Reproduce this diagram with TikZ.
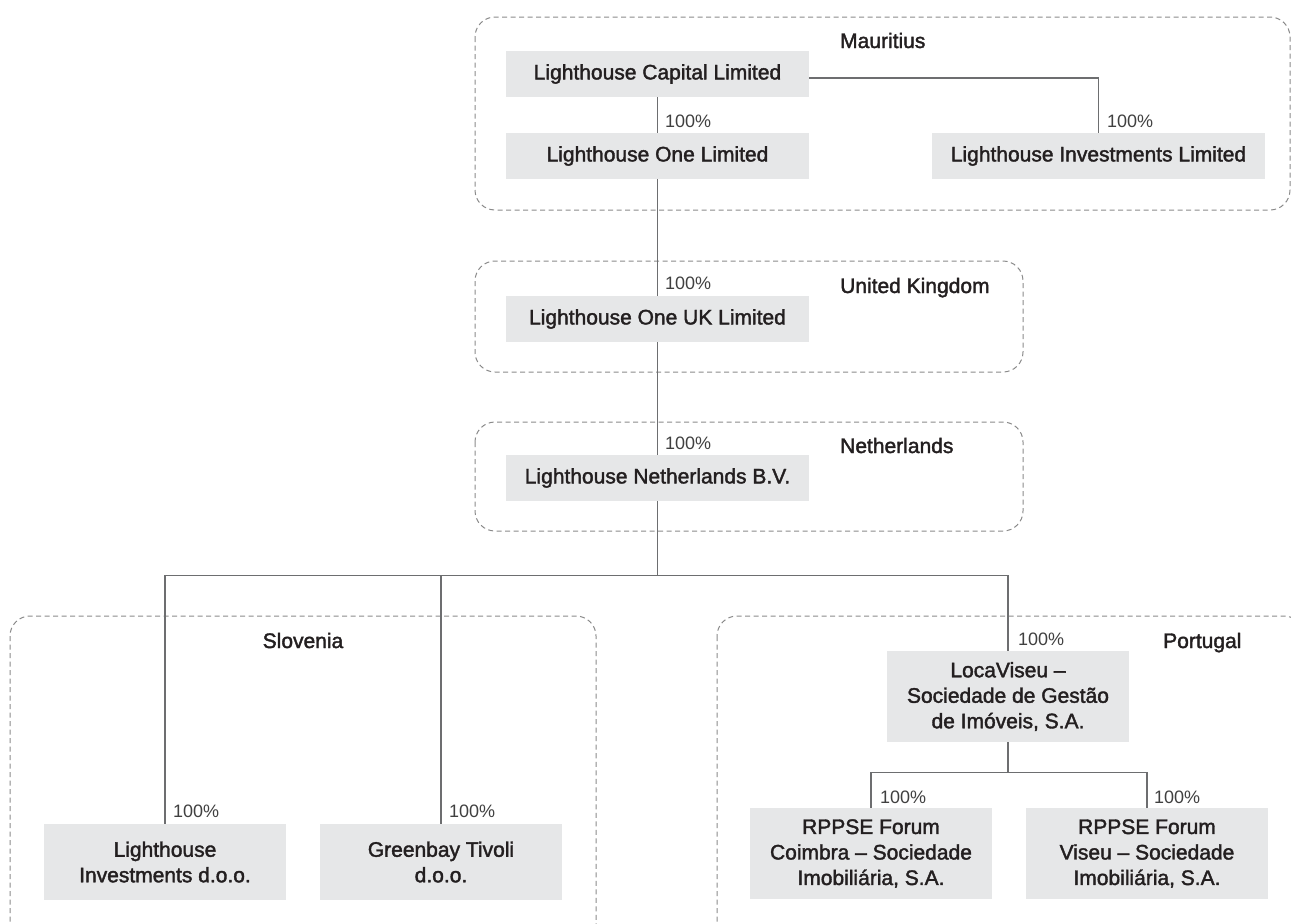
\documentclass[tikz,border=0pt]{standalone}
\usepackage{fontspec}
\setmainfont{Liberation Sans}
\newfontfamily\medfont[FakeBold=1.8]{Liberation Sans}
\definecolor{boxfill}{HTML}{E6E7E8}
\definecolor{txt}{HTML}{231F20}
\definecolor{conncol}{HTML}{6D6E70}
\definecolor{dashcol}{HTML}{8A8A8A}
\definecolor{pctcol}{HTML}{404040}
\tikzset{
  entity/.style={fill=boxfill, inner sep=0pt, align=center, text=txt,
    font=\medfont\fontsize{21}{25.5}\selectfont},
  conn/.style={draw=conncol, line width=1.3pt},
  region/.style={draw=dashcol, line width=1pt, dash pattern=on 5pt off 3.5pt, rounded corners=20pt},
  country/.style={inner sep=0pt, text=txt, font=\medfont\fontsize{21}{25.5}\selectfont, anchor=base west},
  pct/.style={inner sep=0pt, text=pctcol, font=\fontsize{18}{20}\selectfont, anchor=base west}
}
\begin{document}
\begin{tikzpicture}[x=1pt,y=-1pt]
\useasboundingbox (0,0) rectangle (1291,924);
% regions
\draw[region] (475,17) rectangle (1290,210);
\draw[region] (475,261) rectangle (1023,372);
\draw[region] (475,422) rectangle (1023,531);
\draw[region] (10,616) rectangle (596,944);
\draw[region] (717,616) rectangle (1304,944);
% country labels
\node[country] (lmau) at (840,48) {Mauritius};
\node[country] (luk) at (840,293) {United Kingdom};
\node[country] (lnl) at (840,453) {Netherlands};
\node[country, anchor=base] (lslo) at (303,648) {Slovenia};
\node[country] (lpor) at (1163,648) {Portugal};
% entities
\node[entity, minimum width=303pt, minimum height=46pt] (cap) at (657.5,74) {Lighthouse Capital Limited};
\node[entity, minimum width=303pt, minimum height=46pt] (one) at (657.5,156) {Lighthouse One Limited};
\node[entity, minimum width=333pt, minimum height=46pt] (inv) at (1098.5,156) {Lighthouse Investments Limited};
\node[entity, minimum width=303pt, minimum height=46pt] (uk) at (657.5,319) {Lighthouse One UK Limited};
\node[entity, minimum width=303pt, minimum height=46pt] (nl) at (657.5,478) {Lighthouse Netherlands B.V.};
\node[entity, minimum width=242pt, minimum height=76pt] (lid) at (165,862) {Lighthouse\\Investments d.o.o.};
\node[entity, minimum width=242pt, minimum height=76pt] (gbt) at (441,862) {Greenbay Tivoli\\d.o.o.};
\node[entity, minimum width=242pt, minimum height=91pt] (loca) at (1008,696.5) {LocaViseu –\\Sociedade de Gestão\\de Imóveis, S.A.};
\node[entity, minimum width=242pt, minimum height=91pt] (coim) at (871,853.5) {RPPSE Forum\\Coimbra – Sociedade\\Imobiliária, S.A.};
\node[entity, minimum width=242pt, minimum height=91pt] (vis) at (1147,853.5) {RPPSE Forum\\Viseu – Sociedade\\Imobiliária, S.A.};
% connectors
\draw[conn] (cap.south) -- (one.north);
\draw[conn] ([yshift=-4pt]cap.east) -| (inv.north);
\draw[conn] (one.south) -- (uk.north);
\draw[conn] (uk.south) -- (nl.north);
\draw[conn] (nl.south) -- ++(0,74) coordinate (bus);
\draw[conn] (lid.north) |- (bus) -| (loca.north);
\draw[conn] (gbt.north) -- (gbt.north |- bus);
\draw[conn] (loca.south) -- ++(0,30) coordinate (pbus);
\draw[conn] (coim.north) |- (pbus) -| (vis.north);
% percentages
\node[pct] (p1) at (665,127) {100\%};
\node[pct] (p2) at (1107,127) {100\%};
\node[pct] (p3) at (665,289) {100\%};
\node[pct] (p4) at (665,449) {100\%};
\node[pct] (p5) at (173,817) {100\%};
\node[pct] (p6) at (449,817) {100\%};
\node[pct] (p7) at (1018,645) {100\%};
\node[pct] (p8) at (880,803) {100\%};
\node[pct] (p9) at (1154,803) {100\%};
\end{tikzpicture}
\end{document}
